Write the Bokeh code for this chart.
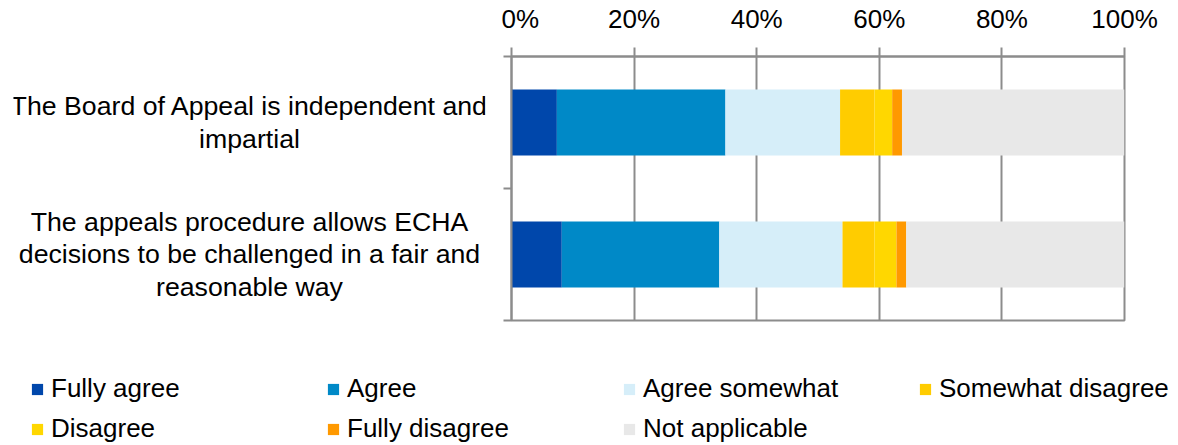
from bokeh.plotting import figure
from bokeh.models import (ColumnDataSource, Range1d, FixedTicker, Legend, LegendItem)
from bokeh.layouts import row, column
from bokeh.core.properties import value
from bokeh.embed import file_html
from bokeh.resources import INLINE

# ---- data ----
categories = [
    "The Board of Appeal is independent and\nimpartial",
    "The appeals procedure allows ECHA\ndecisions to be challenged in a fair and\nreasonable way",
]
series_names = ["Fully agree", "Agree", "Agree somewhat", "Somewhat disagree",
                "Disagree", "Fully disagree", "Not applicable"]
fully_agree = [7.4, 8.2]
agree = [27.5, 25.7]
agree_somewhat = [18.7, 20.1]
somewhat_disagree = [5.6, 5.2]
disagree = [2.9, 3.6]
fully_disagree = [1.6, 1.6]
not_applicable = [36.3, 35.6]
colors = ["#0047AB", "#0089C7", "#D6EEF9", "#FFCC00", "#FFD700", "#FF9900", "#E8E8E8"]
x_ticks = [0, 20, 40, 60, 80, 100]
x_tick_labels = ["0%", "20%", "40%", "60%", "80%", "100%"]

FONT = "Liberation Sans"
GRID = "#8C8C8C"

n = len(categories)
ypos = [n - 0.5 - i for i in range(n)]   # first category on top

keys = ["s%d" % i for i in range(len(series_names))]
data = {"y": ypos, "label": categories, "lx": [0] * n}
for k, vals in zip(keys, [fully_agree, agree, agree_somewhat, somewhat_disagree,
                          disagree, fully_disagree, not_applicable]):
    data[k] = vals
source = ColumnDataSource(data)
yr = Range1d(0, n)

# ---- category labels (left) ----
pl = figure(frame_width=472, frame_height=264, output_backend="svg",
            toolbar_location=None, x_range=Range1d(-1, 1), y_range=yr,
            x_axis_location=None, y_axis_location=None,
            min_border_left=13, min_border_right=16, min_border_top=56,
            min_border_bottom=18)
pl.grid.grid_line_color = None
pl.outline_line_color = None
pl.text(x="lx", y="y", text="label", source=source, text_align="center",
        text_baseline="middle", text_font=value(FONT), text_font_size="26.7px",
        text_color="black", text_line_height=1.07)

# ---- bars ----
p = figure(frame_width=613, frame_height=264, output_backend="svg",
           toolbar_location=None, y_range=yr, x_range=Range1d(0, 100),
           x_axis_location="above", y_axis_location="left",
           min_border_left=10, min_border_right=46, min_border_top=56,
           min_border_bottom=18)
renderers = p.hbar_stack(keys, y="y", height=0.5, color=colors, line_color=None,
                         source=source)

xa = p.xaxis[0]
xa.ticker = FixedTicker(ticks=x_ticks)
xa.major_label_overrides = {t: l for t, l in zip(x_ticks, x_tick_labels)}
xa.major_label_text_font = FONT
xa.major_label_text_font_size = "26px"
xa.major_label_text_color = "black"
xa.axis_line_color = GRID
xa.axis_line_width = 2
xa.major_tick_line_color = GRID
xa.major_tick_line_width = 2
xa.major_tick_out = 9
xa.major_tick_in = 0
xa.minor_tick_line_color = None
xa.major_label_standoff = 14

ya = p.yaxis[0]
ya.ticker = FixedTicker(ticks=[], minor_ticks=list(range(n + 1)))
ya.major_label_text_font_size = "0px"
ya.major_tick_line_color = None
ya.major_tick_out = 0
ya.major_tick_in = 0
ya.major_label_standoff = 0
ya.minor_tick_line_color = GRID
ya.minor_tick_line_width = 2
ya.minor_tick_out = 8
ya.minor_tick_in = 0
ya.axis_line_color = GRID
ya.axis_line_width = 2

p.xgrid.ticker = FixedTicker(ticks=x_ticks)
p.xgrid.grid_line_color = GRID
p.xgrid.grid_line_width = 2
p.ygrid.grid_line_color = None
p.outline_line_color = GRID
p.outline_line_width = 2

# ---- legend (own strip below, same series) ----
pg = figure(width=1170, height=106, output_backend="svg", toolbar_location=None,
            x_range=Range1d(0, 1), y_range=Range1d(0, 1),
            x_axis_location=None, y_axis_location=None, min_border=0)
pg.grid.grid_line_color = None
pg.outline_line_color = None
leg_r = pg.hbar_stack(keys, y="y", height=0.5, color=colors, line_color=None,
                      source=source, visible=False)
items = [LegendItem(label=s, renderers=[r]) for s, r in zip(series_names, leg_r)]
legend = Legend(items=items, ncols=4, orientation="horizontal", location=(30, 0))
legend.label_text_font = FONT
legend.label_text_font_size = "26px"
legend.label_text_color = "black"
legend.glyph_width = 14
legend.glyph_height = 14
legend.label_height = 14
legend.label_width = 266
legend.label_standoff = 7
legend.spacing = 9
legend.padding = 0
legend.margin = 0
legend.border_line_color = None
legend.background_fill_alpha = 0
pg.add_layout(legend, "center")

layout = column(row(pl, p), pg)
open("out.html", "w").write(file_html(layout, INLINE))
